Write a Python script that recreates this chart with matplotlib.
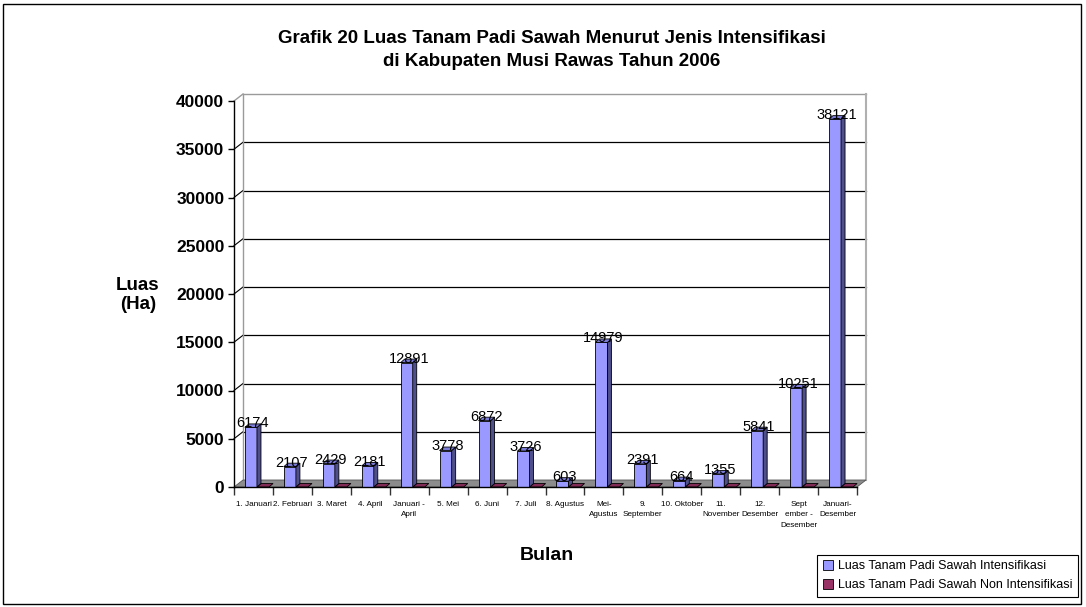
import matplotlib.pyplot as plt
from matplotlib.patches import Polygon, Rectangle, Patch
from matplotlib.lines import Line2D

plt.rcParams['font.family'] = ['Liberation Sans', 'DejaVu Sans']

bulan = ["1. Januari", "2. Februari", "3. Maret", "4. April", "Januari -\nApril",
         "5. Mei", "6. Juni", "7. Juli", "8. Agustus", "Mei-\nAgustus",
         "9.\nSeptember", "10. Oktober", "11.\nNovember", "12.\nDesember",
         "Sept\nember -\nDesember", "Januari-\nDesember"]
intensifikasi = [6174, 2107, 2429, 2181, 12891, 3778, 6872, 3726, 603, 14979,
                 2391, 664, 1355, 5841, 10251, 38121]
non_intensifikasi = [0] * 16
yticks = [0, 5000, 10000, 15000, 20000, 25000, 30000, 35000, 40000]

W, H = 1086, 607
fig = plt.figure(figsize=(W / 100, H / 100), dpi=100)
x0, x1, y0, y1 = 234, 857, 487, 101
ax = fig.add_axes([x0 / W, (H - y0) / H, (x1 - x0) / W, (y0 - y1) / H])
n = len(bulan)
ymax = 40000
ax.set_xlim(0, n)
ax.set_ylim(0, ymax)

upx = n / (x1 - x0)          # x data units per pixel
vpx = ymax / (y0 - y1)       # y data units per pixel
wdx, wdy = 9 * upx, 7 * vpx  # wall depth
bdx, bdy = 4 * upx, 3.5 * vpx  # bar depth

# walls and floor
ax.add_patch(Polygon([(0, 0), (n, 0), (n + wdx, wdy), (wdx, wdy)], closed=True,
                     facecolor='#8c8c8c', edgecolor='#555555', lw=0.6, clip_on=False, zorder=2))
for v in yticks[1:-1]:
    ax.add_line(Line2D([wdx, n + wdx], [v + wdy, v + wdy], color='black', lw=0.9, clip_on=False, zorder=1))
    ax.add_line(Line2D([0, wdx], [v, v + wdy], color='black', lw=0.8, clip_on=False, zorder=1))
wall_c = '#9a9a9a'
ax.add_line(Line2D([wdx, n + wdx], [ymax + wdy, ymax + wdy], color=wall_c, lw=1, clip_on=False, zorder=1))
ax.add_line(Line2D([n + wdx, n + wdx], [wdy, ymax + wdy], color='#b0b0b0', lw=1.5, clip_on=False, zorder=1))
ax.add_line(Line2D([wdx, wdx], [wdy, ymax + wdy], color=wall_c, lw=1, clip_on=False, zorder=1))
ax.add_line(Line2D([0, wdx], [ymax, ymax + wdy], color=wall_c, lw=1, clip_on=False, zorder=1))


def bar3d(x, w, h, front, side, top):
    kw = dict(closed=True, edgecolor='black', lw=0.6, clip_on=False, zorder=3)
    if h > 0:
        ax.add_patch(Polygon([(x, 0), (x + w, 0), (x + w, h), (x, h)], facecolor=front, **kw))
        ax.add_patch(Polygon([(x + w, 0), (x + w + bdx, bdy), (x + w + bdx, h + bdy), (x + w, h)],
                             facecolor=side, **kw))
    ax.add_patch(Polygon([(x, h), (x + w, h), (x + w + bdx, h + bdy), (x + bdx, h + bdy)],
                         facecolor=top, **kw))


bw = 0.31
for i in range(n):
    bar3d(i + 0.59, bw, non_intensifikasi[i], '#993366', '#5c1f3d', '#802a55')
    bar3d(i + 0.28, bw, intensifikasi[i], '#9999ff', '#4f4f8c', '#7b7bd6')
    ax.text(i + 0.28 + bw / 2 + bdx / 2, intensifikasi[i] + 420, str(intensifikasi[i]),
            ha='center', va='center', fontsize=10.5, zorder=5)

# axes
for s in ['top', 'right', 'bottom']:
    ax.spines[s].set_visible(False)
ax.spines['left'].set_linewidth(1)
ax.add_line(Line2D([0, n], [0, 0], color='black', lw=1, clip_on=False, zorder=4))
ax.set_yticks(yticks)
ax.set_yticklabels([str(v) for v in yticks], fontsize=12.5, fontweight='bold')
ax.tick_params(axis='y', length=4, pad=3, width=1)
ax.set_xticks(range(n + 1))
ax.set_xticklabels([])
ax.tick_params(axis='x', which='major', length=6, width=1, color='#333333')
ax.set_xticks([i + 0.5 for i in range(n)], minor=True)
ax.set_xticklabels(bulan, minor=True, fontsize=5.9, linespacing=1.7)
ax.tick_params(axis='x', which='minor', length=0, pad=10)
ax.patch.set_alpha(0)

fig.text(552 / W, 1 - 50 / H, "Grafik 20 Luas Tanam Padi Sawah Menurut Jenis Intensifikasi\n"
         "di Kabupaten Musi Rawas Tahun 2006", ha='center', va='center',
         fontsize=13.5, fontweight='bold', linespacing=1.5)
fig.text(138 / W, 1 - 295 / H, "Luas\n(Ha)", ha='center', va='center',
         fontsize=13.5, fontweight='bold', linespacing=1.2)
fig.text(547 / W, 1 - 556 / H, "Bulan", ha='center', va='center',
         fontsize=14, fontweight='bold')

handles = [Patch(facecolor='#9999ff', edgecolor='black', lw=0.6),
           Patch(facecolor='#993366', edgecolor='black', lw=0.6)]
leg = fig.legend(handles, ["Luas Tanam Padi Sawah Intensifikasi",
                           "Luas Tanam Padi Sawah Non Intensifikasi"],
                 loc='lower right', bbox_to_anchor=(1078 / W, 10 / H), fontsize=9,
                 fancybox=False, edgecolor='black', framealpha=1, handlelength=0.8,
                 handleheight=0.8, handletextpad=0.4, borderpad=0.45, labelspacing=0.55,
                 borderaxespad=0)
leg.get_frame().set_linewidth(0.8)

fig.patches.append(Rectangle((3 / W, 3 / H), 1078 / W, 600 / H, transform=fig.transFigure,
                             fill=False, edgecolor='black', lw=1))

fig.savefig('out.png', dpi=100, facecolor='white')
